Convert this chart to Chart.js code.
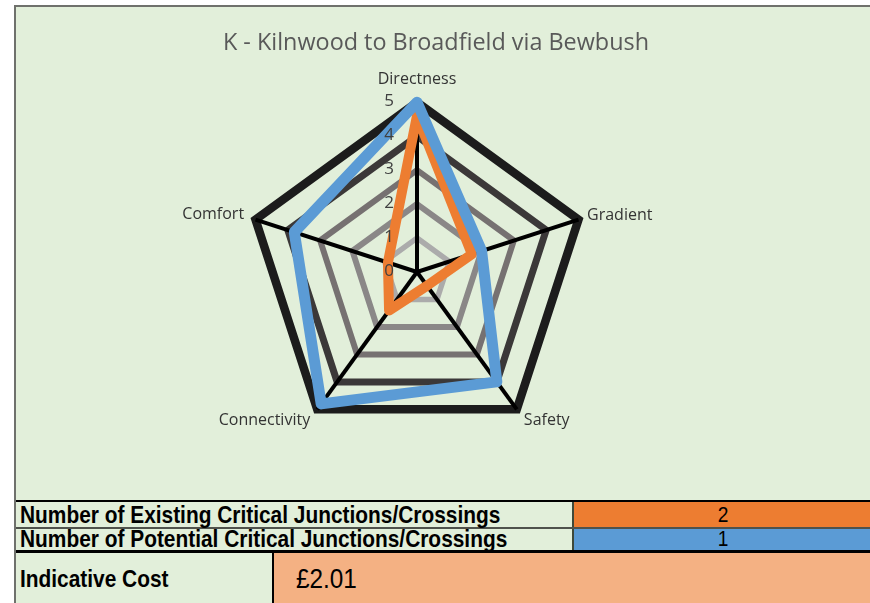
<!DOCTYPE html>
<html>
<head>
<meta charset="utf-8">
<script src="https://cdn.jsdelivr.net/npm/chart.js@4.4.1/dist/chart.umd.min.js"></script>
<style>
  body { margin: 0; background: #fff; width: 870px; height: 603px; overflow: hidden; position: relative; }
  #sheet { position: absolute; left: 14px; top: 5px; width: 856px; height: 598px;
           border-left: 2px solid #6f716c; border-top: 2px solid #6f716c; background: #e2efda; }
  #radarChart { position: absolute; left: 0; top: 0; }
  #chartTitle { position: absolute; left: 120px; width: 600px; top: 20px; text-align: center;
                font-family: "Open Sans", sans-serif; font-size: 23.4px; line-height: 28px; color: #595959; white-space: nowrap; }
  .hline { position: absolute; left: 0; width: 856px; }
  .cell { position: absolute; }
  .lbl { position: absolute; left: 4px; font-family: "Liberation Sans", Arial, sans-serif; font-weight: bold;
         font-size: 24px; color: #000; transform: scaleX(0.87); transform-origin: left center; white-space: nowrap; }
  .num { position: absolute; font-family: "Liberation Sans", Arial, sans-serif; font-size: 22px; color: #000;
         text-align: center; transform: scaleX(0.87); }
</style>
</head>
<body>
<div id="sheet">
  <canvas id="radarChart" width="854" height="493"></canvas>
  <div id="chartTitle">K - Kilnwood to Broadfield via Bewbush</div>

  <div class="hline" style="top:493px;height:2px;background:#000;"></div>
  <div class="cell" style="left:558px;top:495px;width:298px;height:25px;background:#ed7d31;"></div>
  <div class="cell" style="left:556px;top:495px;width:2px;height:48px;background:#3f4a3a;"></div>
  <div class="hline" style="top:520px;height:2px;background:#4f524c;"></div>
  <div class="cell" style="left:558px;top:522px;width:298px;height:21px;background:#5b9bd5;"></div>
  <div class="hline" style="top:543px;height:3px;background:#000;"></div>
  <div class="cell" style="left:256px;top:546px;width:2px;height:52px;background:#000;"></div>
  <div class="cell" style="left:258px;top:546px;width:598px;height:52px;background:#f4b183;"></div>

  <div class="lbl" style="top:494px;line-height:27px;">Number of Existing Critical Junctions/Crossings</div>
  <div class="lbl" style="top:520px;line-height:24px;">Number of Potential Critical Junctions/Crossings</div>
  <div class="lbl" style="top:546px;line-height:52px;">Indicative Cost</div>
  <div class="num" style="left:558px;top:495px;width:298px;line-height:26px;">2</div>
  <div class="num" style="left:558px;top:521px;width:298px;line-height:22px;">1</div>
  <div class="num" style="left:280px;top:546px;line-height:52px;font-size:27px;transform:scaleX(0.9);transform-origin:left center;">£2.01</div>
</div>

<script>
const criteria = ['Directness', 'Gradient', 'Safety', 'Connectivity', 'Comfort'];
const existingScores = [4.6, 1.7, 0.5, 1.4, 0.9];
const potentialScores = [5, 2, 4, 4.8, 3.8];
const tickValues = [0, 1, 2, 3, 4, 5];

// ring colours get darker towards the outside
const ringColours = ['#000000', '#ababab', '#8a8787', '#767171', '#3b3838', '#1c1c1c'];
const ringWidths = [0, 5.5, 6, 6, 7, 8.5];
// tiny lineHeight so labels sit centred on the spoke ends, like Excel does
const labelPadding = [21, 9, 12, 12, 12];

// draw the 0..5 numbers to the left of the Directness spoke
const tickLabels = {
    id: 'tickLabels',
    afterDatasetsDraw(chart) {
        const r = chart.scales.r;
        const ctx = chart.ctx;
        ctx.save();
        ctx.font = '17px "Open Sans"';
        ctx.fillStyle = '#404040';
        ctx.textAlign = 'center';
        ctx.textBaseline = 'middle';
        tickValues.forEach(v => {
            const d = r.getDistanceFromCenterForValue(v);
            ctx.fillText(String(v), r.xCenter - 28, r.yCenter - d - 1);
        });
        ctx.restore();
    }
};

const radarCtx = document.getElementById('radarChart').getContext('2d');

new Chart(radarCtx, {
    type: 'radar',
    data: {
        labels: criteria,
        datasets: [{
            label: 'Existing',
            data: existingScores,
            borderColor: '#ed7d31',
            borderWidth: 10,
            borderJoinStyle: 'round',
            fill: false,
            pointRadius: 0,
            order: 1
        }, {
            label: 'Potential',
            data: potentialScores,
            borderColor: '#5b9bd5',
            borderWidth: 11,
            borderJoinStyle: 'round',
            fill: false,
            pointRadius: 0,
            order: 0
        }]
    },
    options: {
        responsive: false,
        animation: false,
        layout: {
            padding: { left: 0, right: 52, top: 59, bottom: 45 }
        },
        plugins: {
            legend: { display: false },
            tooltip: { enabled: false },
            title: { display: false }
        },
        scales: {
            r: {
                min: 0,
                max: 5,
                ticks: { stepSize: 1, display: false },
                grid: {
                    color: (c) => ringColours[c.index],
                    lineWidth: (c) => ringWidths[c.index]
                },
                angleLines: { color: '#000', lineWidth: 4 },
                pointLabels: {
                    color: '#333',
                    font: { family: 'Open Sans', size: 16, lineHeight: 0.2 },
                    padding: (c) => labelPadding[c.index]
                }
            }
        }
    },
    plugins: [tickLabels]
});
</script>
</body>
</html>
